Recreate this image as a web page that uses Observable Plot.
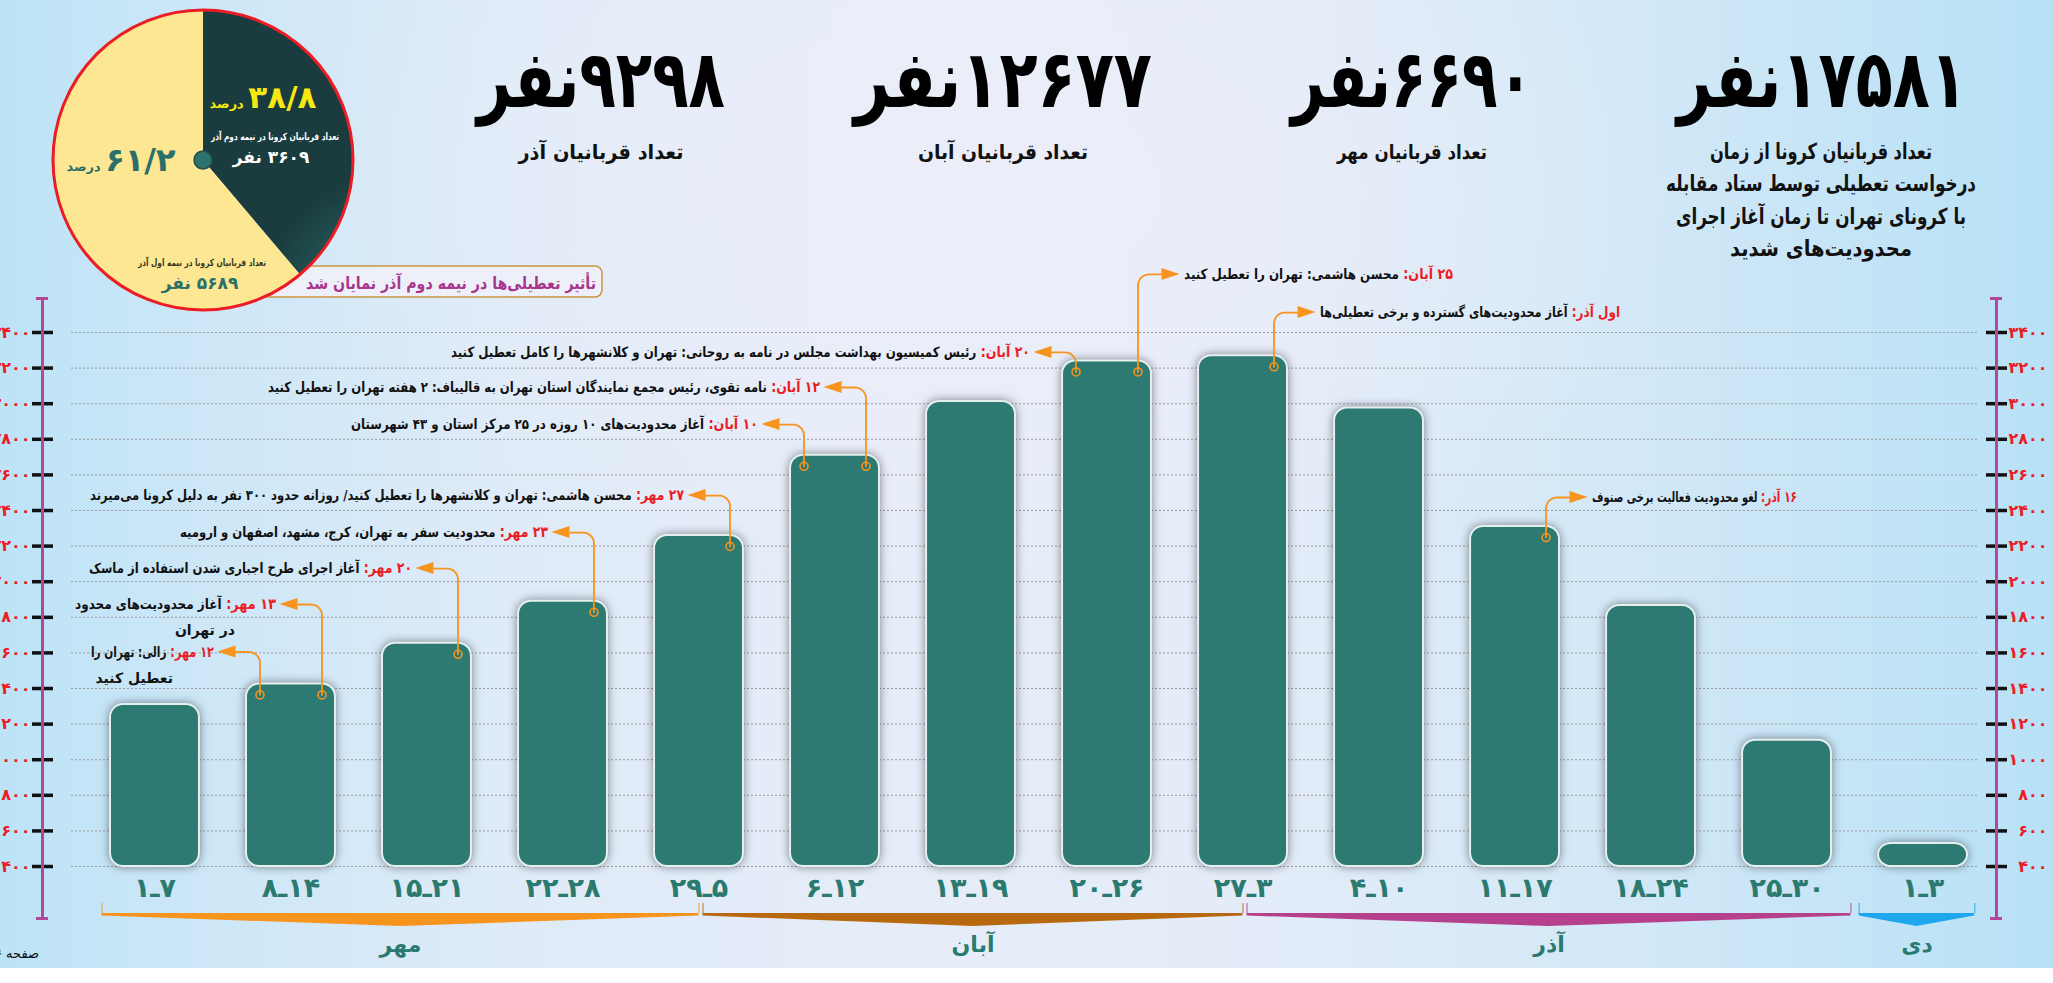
<!DOCTYPE html>
<html lang="fa">
<head>
<meta charset="utf-8">
<script src="https://cdn.jsdelivr.net/npm/d3@7"></script>
<script src="https://cdn.jsdelivr.net/npm/@observablehq/plot@0.6"></script>
<style>
html,body{margin:0;padding:0;background:#fff;}
body{width:2053px;height:983px;position:relative;overflow:hidden;font-family:"DejaVu Sans",sans-serif;}
#bg{position:absolute;left:0;top:0;width:2053px;height:968px;
 background:
  radial-gradient(ellipse 45% 60% at 48% 20%, rgba(236,238,249,0.95), rgba(236,238,249,0) 75%),
  linear-gradient(90deg,#bde3f7 0%,#cde7f7 10%,#dfebf8 25%,#e6edf8 45%,#e3ecf8 62%,#d2e8f7 80%,#b8e1f6 100%);}
#chart,#over{position:absolute;left:0;top:0;}
#over{pointer-events:none;}
</style>
</head>
<body>
<div id="bg"></div>
<div id="chart"></div>
<svg id="over" width="2053" height="983"></svg>
<script>
// ---------------- DATA ----------------
const weeks  = ["۱ـ۷","۸ـ۱۴","۱۵ـ۲۱","۲۲ـ۲۸","۲۹ـ۵","۶ـ۱۲","۱۳ـ۱۹","۲۰ـ۲۶","۲۷ـ۳","۴ـ۱۰","۱۱ـ۱۷","۱۸ـ۲۴","۲۵ـ۳۰","۱ـ۳"];
const deaths = [1310, 1426, 1654, 1890, 2260, 2710, 3013, 3240, 3269, 2976, 2310, 1867, 1110, 530];
const yTicks = [400,600,800,1000,1200,1400,1600,1800,2000,2200,2400,2600,2800,3000,3200,3400];

const months     = ["مهر","آبان","آذر","دی"];
const monthFirst = [0, 4, 8, 13];
const monthLast  = [4, 8, 12, 13];

const totalAll     = 17581;
const monthTotals  = [6690, 12677, 9298];          // مهر، آبان، آذر
const monthTotalLabels = ["تعداد قربانیان مهر","تعداد قربانیان آبان","تعداد قربانیان آذر"];
const totalLines = ["تعداد قربانیان کرونا از زمان","درخواست تعطیلی توسط ستاد مقابله","با کرونای تهران تا زمان آغاز اجرای","محدودیت‌های شدید"];

const azarHalfValues = [3609, 5689];               // نیمه دوم، نیمه اول
const azarHalfPct    = ["۳۸/۸","۶۱/۲"];
const azarHalfLabels = ["تعداد قربانیان کرونا در نیمه دوم آذر","تعداد قربانیان کرونا در نیمه اول آذر"];
const calloutText = "تأثیر تعطیلی‌ها در نیمه دوم آذر نمایان شد";

const noteDate  = ["۱۲ مهر:","۱۳ مهر:","۲۰ مهر:","۲۳ مهر:","۲۷ مهر:","۱۰ آبان:","۱۲ آبان:","۲۰ آبان:","۲۵ آبان:","اول آذر:","۱۶ آذر:"];
const noteText  = [
  "زالی: تهران را\nتعطیل کنید",
  "آغاز محدودیت‌های محدود\nدر تهران",
  "آغاز اجرای طرح اجباری شدن استفاده از ماسک",
  "محدودیت سفر به تهران، کرج، مشهد، اصفهان و ارومیه",
  "محسن هاشمی: تهران و کلانشهرها را تعطیل کنید/ روزانه حدود ۳۰۰ نفر به دلیل کرونا می‌میرند",
  "آغاز محدودیت‌های ۱۰ روزه در ۲۵ مرکز استان و ۴۳ شهرستان",
  "نامه تقوی، رئیس مجمع نمایندگان استان تهران به قالیباف: ۲ هفته تهران را تعطیل کنید",
  "رئیس کمیسیون بهداشت مجلس در نامه به روحانی: تهران و کلانشهرها را کامل تعطیل کنید",
  "محسن هاشمی: تهران را تعطیل کنید",
  "آغاز محدودیت‌های گسترده و برخی تعطیلی‌ها",
  "لغو محدودیت فعالیت برخی صنوف"
];
const noteBar   = [1, 1, 2, 3, 4, 5, 5, 7, 7, 8, 10];
const noteSide  = [-1, 1, 1, 1, 1, -1, 1, -1, 1, 1, 1];
const noteLevel = [1605, 1872, 2074, 2276, 2484, 2883, 3091, 3288, 3726, 3512, 2473];
const noteDir   = [-1, -1, -1, -1, -1, -1, -1, -1, 1, 1, 1];

// ---------------- STYLE / LAYOUT ----------------
const fa = s => String(s).replace(/\d/g, d => "۰۱۲۳۴۵۶۷۸۹"[+d]);
const FONT = "DejaVu Sans";
const TEAL = "#2d7a73", ORANGE = "#f7941d", RED = "#ec1c24", AXIS = "#b5479b";
const monthColors = ["#f7941d", "#b8690f", "#b5418c", "#1ea7ec"];
const noteWidth = [123, 201, 323, 368, 594, 407, 552, 579, 269, 300, 205];   // line widths in px
const W = 2053, H = 968, mT = 298, mB = 50, mL = 42, mR = 57;
const X0 = -0.827, X1 = 13.54, Y0 = 108, Y1 = 3591;
const ux = (X1 - X0) / (W - mL - mR);   // x units per pixel
const uy = (Y1 - Y0) / (H - mT - mB);   // y units per pixel
const yAt = p => Y0 + (H - mB - p) * uy;  // pixel row -> y value
const xAt = p => X0 + (p - mL) * ux;

const rows = weeks.map((w, i) => ({i, v: deaths[i], label: w.replace("ـ", "\u200Eـ\u200E")}));

const monthSpans = months.map((m, k) => {
  const first = monthFirst[k], last = monthLast[k];
  const sharedStart = k > 0 && monthLast[k - 1] === first;
  const sharedEnd = k < months.length - 1 && monthFirst[k + 1] === last;
  let from, to;
  if (k === 0) from = first - 0.39;
  else if (sharedStart) from = first + 4 * ux;
  else from = (monthLast[k - 1] + first) / 2 + 0.03;
  if (k === months.length - 1) to = last + 0.38;
  else if (sharedEnd) to = last;
  else to = (last + monthFirst[k + 1]) / 2 - 0.03;
  return {k, name: m, from, to, mid: (from + to) / 2, color: monthColors[k]};
});
const bTop = yAt(913);
const wedge = monthSpans.flatMap(s => [
  {k: s.k, x: s.from, y1: bTop, y2: bTop - 2.5 * uy},
  {k: s.k, x: s.mid,  y1: bTop, y2: bTop - 13 * uy},
  {k: s.k, x: s.to,   y1: bTop, y2: bTop - 2.5 * uy}
]);
const wedgeEnds = monthSpans.flatMap(s => [{k: s.k, x: s.from}, {k: s.k, x: s.to}]);

const notes = noteDate.map((d, k) => {
  const i = noteBar[k], v = deaths[i], dir = noteDir[k], L = noteLevel[k];
  const xc = i + noteSide[k] * 31 * ux;
  const yc = v - 11 * uy;
  const [l1, l2] = noteText[k].split("\n");
  return {k, date: d, l1, l2, full: d + " " + l1, xc, yc, L, dir,
          tip: xc + dir * 42 * ux, base: xc + dir * 24 * ux};
});
const r = 11;
const connector = notes.flatMap(n => {
  const pts = [{k: n.k, x: n.xc, y: n.yc}, {k: n.k, x: n.xc, y: n.L - r * uy}];
  for (let s = 1; s <= 10; s++) {
    const t = s / 10 * Math.PI / 2;
    pts.push({k: n.k, x: n.xc + n.dir * r * (1 - Math.cos(t)) * ux, y: n.L - r * (1 - Math.sin(t)) * uy});
  }
  pts.push({k: n.k, x: n.base, y: n.L});
  return pts;
});
const heads = notes.flatMap(n => [
  {k: n.k, x: n.base, y1: n.L - 6 * uy, y2: n.L + 6 * uy},
  {k: n.k, x: n.tip, y1: n.L, y2: n.L}
]);

// ---------------- PLOT ----------------
const chart = Plot.plot({
  width: W, height: H,
  marginTop: mT, marginBottom: mB, marginLeft: mL, marginRight: mR,
  x: {domain: [X0, X1], axis: null},
  y: {domain: [Y0, Y1], axis: null},
  style: {background: "transparent", overflow: "visible", fontFamily: FONT},
  marks: [
    Plot.ruleY(yTicks, {x1: xAt(71), x2: xAt(1977), stroke: "#9b9b9b", strokeWidth: 1, strokeDasharray: "2,2"}),
    Plot.rect(rows, {x1: d => d.i - 0.327, x2: d => d.i + 0.327, y1: 400, y2: "v",
      fill: TEAL, stroke: "#e4efee", strokeWidth: 2, rx: 13}),
    Plot.text(rows, {x: "i", y: 400, dy: 22, text: "label", fill: "#2a7a70",
      fontSize: 27, fontWeight: "bold", fontFamily: FONT}),
    // y ticks
    Plot.ruleY(yTicks, {x1: xAt(32), x2: xAt(53), stroke: "#111", strokeWidth: 3.5}),
    Plot.ruleY(yTicks, {x1: xAt(1986), x2: xAt(2007), stroke: "#111", strokeWidth: 3.5}),
    Plot.ruleX([X0, X1], {y1: Y0, y2: Y1, stroke: AXIS, strokeWidth: 3}),
    Plot.ruleY([Y0, Y1], {x1: xAt(36), x2: xAt(48), stroke: AXIS, strokeWidth: 3}),
    Plot.ruleY([Y0, Y1], {x1: xAt(1990), x2: xAt(2002), stroke: AXIS, strokeWidth: 3}),
    Plot.text(yTicks, {x: X0, y: d => d, dx: -12, text: d => fa(d), textAnchor: "end",
      fill: RED, fontSize: 16, fontWeight: "bold", fontFamily: FONT}),
    Plot.text(yTicks, {x: X1, y: d => d, dx: 51, text: d => fa(d), textAnchor: "end",
      fill: RED, fontSize: 16, fontWeight: "bold", fontFamily: FONT}),
    // month brackets
    Plot.ruleX(wedgeEnds, {x: "x", y1: bTop, y2: bTop + 10 * uy, stroke: d => monthColors[d.k], strokeOpacity: 0.6, strokeWidth: 1.5}),
    Plot.area(wedge, {x1: "x", y1: "y1", y2: "y2", z: "k", fill: d => monthColors[d.k]}),
    Plot.text(monthSpans, {x: "mid", y: yAt(944), text: "name", fill: "#2a7a70",
      fontSize: 22, fontWeight: "bold", fontFamily: FONT}),
    // annotations
    Plot.line(connector, {x: "x", y: "y", z: "k", stroke: ORANGE, strokeWidth: 1.8}),
    Plot.area(heads, {x1: "x", y1: "y1", y2: "y2", z: "k", fill: ORANGE}),
    Plot.dot(notes, {x: "xc", y: "yc", r: 4, stroke: ORANGE, strokeWidth: 1.6, fill: "none"}),
    Plot.text(notes.filter(n => n.dir < 0), {x: "tip", y: "L", dx: -4, text: "full", textAnchor: "end",
      fill: "#111", fontSize: 14, fontWeight: "bold", fontFamily: FONT}),
    Plot.text(notes.filter(n => n.dir > 0), {x: "tip", y: "L", dx: 4, text: "full", textAnchor: "start",
      fill: "#111", fontSize: 14, fontWeight: "bold", fontFamily: FONT}),
    Plot.text(notes.filter(n => n.l2), {x: "tip", y: "L", dx: -45, dy: 26, text: "l2", textAnchor: "end",
      fill: "#111", fontSize: 14, fontWeight: "bold", fontFamily: FONT})
  ]
});
document.getElementById("chart").appendChild(chart);

// shadow on bars
const svgEl = chart.tagName.toLowerCase() === "svg" ? chart : chart.querySelector("svg");
const firstRect = svgEl.querySelector("rect");
if (firstRect) firstRect.parentNode.style.filter = "drop-shadow(0 0 5px rgba(40,40,50,0.55))";

// right-to-left annotation lines with red date prefixes
const NS = "http://www.w3.org/2000/svg";
const noteMap = new Map(notes.map(n => [n.full, n]));
svgEl.querySelectorAll("text").forEach(t => {
  const n = noteMap.get(t.textContent);
  if (!n) return;
  t.textContent = "";
  t.setAttribute("direction", "rtl");
  t.style.direction = "rtl";
  t.setAttribute("text-anchor", n.dir < 0 ? "start" : "end");
  const a = document.createElementNS(NS, "tspan");
  a.setAttribute("fill", RED); a.setAttribute("font-size", "15");
  a.textContent = n.date + " ";
  const b = document.createElementNS(NS, "tspan");
  b.textContent = n.l1;
  t.append(a, b);
  t.setAttribute("textLength", noteWidth[n.k]);
  t.setAttribute("lengthAdjust", "spacingAndGlyphs");
});

// ---------------- HEADER, PIE, CALLOUT ----------------
const over = d3.select("#over");
function fit(sel, maxW) {
  const len = sel.node().getComputedTextLength();
  if (len > maxW) sel.attr("textLength", maxW).attr("lengthAdjust", "spacingAndGlyphs");
  return sel;
}
function rtlText(x, y, size, opts = {}) {
  return over.append("text").attr("x", x).attr("y", y)
    .attr("direction", "rtl").style("direction", "rtl")
    .attr("text-anchor", opts.anchor || "middle")
    .attr("font-family", FONT).attr("font-weight", opts.weight || "bold")
    .attr("font-size", size).attr("fill", opts.fill || "#111");
}
const statCols = [
  {num: totalAll, x: 1822, w: 290},
  {num: monthTotals[0], x: 1412, w: 242},
  {num: monthTotals[1], x: 1003, w: 298},
  {num: monthTotals[2], x: 601, w: 248}
];
statCols.forEach(s => {
  fit(rtlText(s.x, 107, 80, {fill: "#000"}).text(fa(s.num) + "نفر"), s.w);
});
[[1412, 150], [1003, 170], [601, 165]].forEach(([x, w], k) => {
  fit(rtlText(x, 159, 20).text(monthTotalLabels[k]), w);
});
[[159, 222], [191, 310], [224, 290], [256, 182]].forEach(([y, w], k) => {
  fit(rtlText(1821, y, 22).text(totalLines[k]), w);
});

// callout box
over.append("rect").attr("x", 262).attr("y", 266).attr("width", 340).attr("height", 31).attr("rx", 7)
  .attr("fill", "#eef0f9").attr("stroke", "#c9953f").attr("stroke-width", 1.5);
fit(rtlText(596, 289, 17, {anchor: "start", fill: "#a8368f"}).text(calloutText), 290);

// pie
const defs = over.append("defs");
const rg = defs.append("radialGradient").attr("id", "darkSlice").attr("gradientUnits", "userSpaceOnUse")
  .attr("cx", 203).attr("cy", 160).attr("r", 150);
rg.append("stop").attr("offset", "0%").attr("stop-color", "#2f7f77");
rg.append("stop").attr("offset", "100%").attr("stop-color", "#1a3c3f");
const pieG = over.append("g").attr("transform", "translate(203,160)");
const arcs = d3.pie().sort(null)(azarHalfValues);
const arcGen = d3.arc().innerRadius(0).outerRadius(150);
pieG.selectAll("path.s").data(arcs).join("path").attr("d", arcGen)
  .attr("fill", (d, i) => i === 0 ? "url(#darkSlice)" : "#fde792");
pieG.append("circle").attr("r", 150).attr("fill", "none").attr("stroke", RED).attr("stroke-width", 3);
pieG.append("circle").attr("r", 9).attr("fill", "#2f716c").attr("stroke", "#22504d").attr("stroke-width", 1.5);

function pct(x, y, k, color, big) {
  const t = rtlText(x, y, big, {fill: color});
  t.append("tspan").text(azarHalfPct[k]);
  t.append("tspan").attr("font-size", 13).text(" درصد");
}
pct(263, 108, 0, "#f7e814", 31);
pct(121, 171, 1, "#2b6f6b", 32);
fit(rtlText(275, 140, 10, {fill: "#fff"}).text(azarHalfLabels[0]), 128);
rtlText(271, 163, 17, {fill: "#fff"}).text(fa(azarHalfValues[0]) + " نفر");
fit(rtlText(202, 266, 10, {fill: "#3a3a22"}).text(azarHalfLabels[1]), 128);
rtlText(200, 289, 17, {fill: "#2b6f6b"}).text(fa(azarHalfValues[1]) + " نفر");

// page number
rtlText(39, 958, 13, {anchor: "start", weight: "normal"}).text("صفحه ۶");
</script>
</body>
</html>
